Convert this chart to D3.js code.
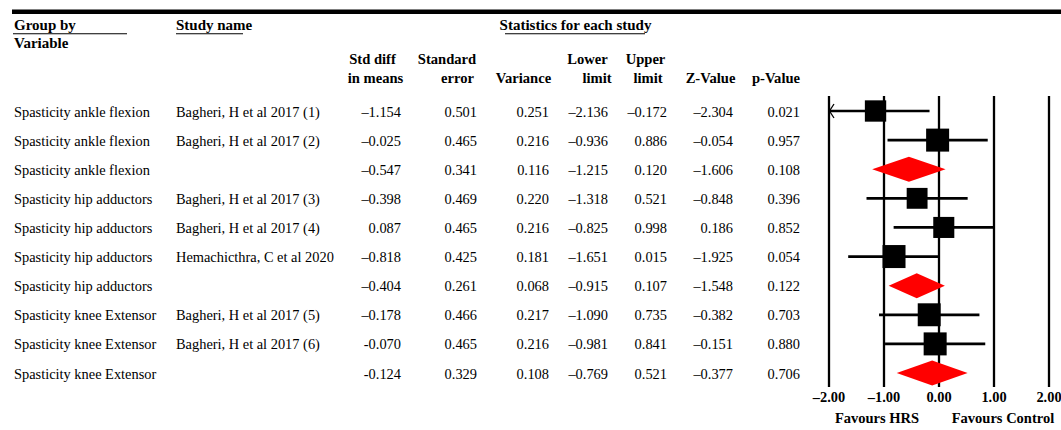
<!DOCTYPE html>
<html>
<head>
<meta charset="utf-8">
<script src="https://cdn.jsdelivr.net/npm/d3@7"></script>
<style>
  html, body { margin: 0; padding: 0; background: #fff; }
  svg { display: block; font-family: "Liberation Serif", "Times New Roman", serif; }
  .bold { font-weight: bold; }
</style>
</head>
<body>
<svg id="chart" width="1061" height="430"></svg>
<script>
// Subgroup (variable) for each row
const groups = [
  "Spasticity ankle flexion", "Spasticity ankle flexion", "Spasticity ankle flexion",
  "Spasticity hip adductors", "Spasticity hip adductors", "Spasticity hip adductors", "Spasticity hip adductors",
  "Spasticity knee Extensor", "Spasticity knee Extensor", "Spasticity knee Extensor"
];
// Study names; an empty name marks the subgroup summary row
const studies = [
  "Bagheri, H et al 2017 (1)", "Bagheri, H et al 2017 (2)", "",
  "Bagheri, H et al 2017 (3)", "Bagheri, H et al 2017 (4)", "Hemachicthra, C et al 2020", "",
  "Bagheri, H et al 2017 (5)", "Bagheri, H et al 2017 (6)", ""
];
// Statistics for each study, as printed
const stdDiff  = ["–1.154", "–0.025", "–0.547", "–0.398", "0.087", "–0.818", "–0.404", "–0.178", "-0.070", "-0.124"];
const stdErr   = ["0.501", "0.465", "0.341", "0.469", "0.465", "0.425", "0.261", "0.466", "0.465", "0.329"];
const variance = ["0.251", "0.216", "0.116", "0.220", "0.216", "0.181", "0.068", "0.217", "0.216", "0.108"];
const lower    = ["–2.136", "–0.936", "–1.215", "–1.318", "–0.825", "–1.651", "–0.915", "–1.090", "–0.981", "–0.769"];
const upper    = ["–0.172", "0.886", "0.120", "0.521", "0.998", "0.015", "0.107", "0.735", "0.841", "0.521"];
const zValue   = ["–2.304", "–0.054", "–1.606", "–0.848", "0.186", "–1.925", "–1.548", "–0.382", "–0.151", "–0.377"];
const pValue   = ["0.021", "0.957", "0.108", "0.396", "0.852", "0.054", "0.122", "0.703", "0.880", "0.706"];
// Forest plot axis
const axisTicks = [-2, -1, 0, 1, 2];
const axisTickLabels = ["–2.00", "–1.00", "0.00", "1.00", "2.00"];
const favourLabels = ["Favours HRS", "Favours Control"];

const num = s => +s.replace("–", "-");

const svg = d3.select("#chart");

// Top rule
svg.append("rect").attr("x", 12).attr("y", 9.5).attr("width", 1049).attr("height", 4.5).attr("fill", "#000");

// Header titles with underlines
const headTitles = [
  { text: "Group by", x: 14, anchor: "start", u: [13, 127] },
  { text: "Study name", x: 176, anchor: "start", u: [176, 243] },
  { text: "Statistics for each study", x: 575.5, anchor: "middle", u: [505, 645] }
];
headTitles.forEach(h => {
  svg.append("text").attr("class", "bold").attr("x", h.x).attr("y", 29.5)
    .attr("text-anchor", h.anchor).attr("font-size", 15).text(h.text);
  svg.append("line").attr("x1", h.u[0]).attr("x2", h.u[1]).attr("y1", 33.8).attr("y2", 33.8)
    .attr("stroke", "#000").attr("stroke-width", 1.1);
});
svg.append("text").attr("class", "bold").attr("x", 14).attr("y", 48)
  .attr("font-size", 15).text("Variable");

// Column headers
const colHeads = [
  { lines: ["Std diff", "in means"], cx: [372.5, 375.5] },
  { lines: ["Standard", "error"], cx: [447, 457.5] },
  { lines: ["", "Variance"], cx: [0, 523.5] },
  { lines: ["Lower", "limit"], cx: [587.5, 597] },
  { lines: ["Upper", "limit"], cx: [645.5, 648] },
  { lines: ["", "Z-Value"], cx: [0, 710.5] },
  { lines: ["", "p-Value"], cx: [0, 776] }
];
colHeads.forEach(c => {
  c.lines.forEach((t, k) => {
    if (!t) return;
    svg.append("text").attr("class", "bold").attr("x", c.cx[k]).attr("y", k === 0 ? 64 : 83)
      .attr("text-anchor", "middle").attr("font-size", 14.6).text(t);
  });
});

// Rows
const n = groups.length;
const y = d3.scalePoint().domain(d3.range(n)).range([111, 373]);

const textCols = [
  { values: groups, x: 14, anchor: "start" },
  { values: studies, x: 176, anchor: "start" },
  { values: stdDiff, x: 401, anchor: "end" },
  { values: stdErr, x: 477, anchor: "end" },
  { values: variance, x: 549, anchor: "end" },
  { values: lower, x: 608, anchor: "end" },
  { values: upper, x: 667, anchor: "end" },
  { values: zValue, x: 733, anchor: "end" },
  { values: pValue, x: 800, anchor: "end" }
];
textCols.forEach(col => {
  svg.append("g").selectAll("text").data(col.values).join("text")
    .attr("x", col.x).attr("y", (d, i) => y(i) + 5.5)
    .attr("text-anchor", col.anchor).attr("font-size", 14.4).text(d => d);
});

// Forest plot
const x = d3.scaleLinear().domain([-2, 2]).range([829, 1049]);

svg.append("g").selectAll("line").data(axisTicks).join("line")
  .attr("x1", d => x(d)).attr("x2", d => x(d)).attr("y1", 96).attr("y2", 387)
  .attr("stroke", "#000").attr("stroke-width", 2.3);

svg.append("g").selectAll("text").data(axisTicks).join("text")
  .attr("class", "bold").attr("x", d => x(d)).attr("y", 402)
  .attr("text-anchor", "middle").attr("font-size", 14.4)
  .text((d, i) => axisTickLabels[i]);

svg.append("text").attr("class", "bold").attr("x", x(-1) - 7).attr("y", 423)
  .attr("text-anchor", "middle").attr("font-size", 14.5).text(favourLabels[0]);
svg.append("text").attr("class", "bold").attr("x", x(1) + 9).attr("y", 423)
  .attr("text-anchor", "middle").attr("font-size", 14.5).text(favourLabels[1]);

// Weights (inverse variance) decide box sizes within each subgroup
const weight = variance.map(v => 1 / num(v));
const groupMax = {};
groups.forEach((g, i) => {
  if (studies[i]) groupMax[g] = Math.max(groupMax[g] || 0, weight[i]);
});

const marks = svg.append("g");
const [dMin, dMax] = x.domain();
d3.range(n).forEach(i => {
  const est = num(stdDiff[i]), lo = num(lower[i]), hi = num(upper[i]);
  const cy = y(i);
  if (studies[i]) {
    // confidence interval, clipped to the axis range
    marks.append("line")
      .attr("x1", x(Math.max(lo, dMin))).attr("x2", x(Math.min(hi, dMax)))
      .attr("y1", cy).attr("y2", cy).attr("stroke", "#000").attr("stroke-width", 2.7);
    if (lo < dMin) {
      marks.append("path")
        .attr("d", `M${x(dMin) + 5},${cy - 7}L${x(dMin) + 0.5},${cy}L${x(dMin) + 5},${cy + 7}`)
        .attr("fill", "none").attr("stroke", "#000").attr("stroke-width", 1.3);
    }
    const side = d3.scaleSqrt().domain([0, groupMax[groups[i]]]).range([0, 23])(weight[i]);
    marks.append("rect")
      .attr("x", x(est) - side / 2).attr("y", cy - side / 2)
      .attr("width", side).attr("height", side).attr("fill", "#000");
  } else {
    // subgroup summary diamond
    marks.append("path")
      .attr("d", `M${x(lo)},${cy}L${x(est)},${cy - 12.5}L${x(hi)},${cy}L${x(est)},${cy + 12.5}Z`)
      .attr("fill", "#ff0000");
  }
});
</script>
</body>
</html>
